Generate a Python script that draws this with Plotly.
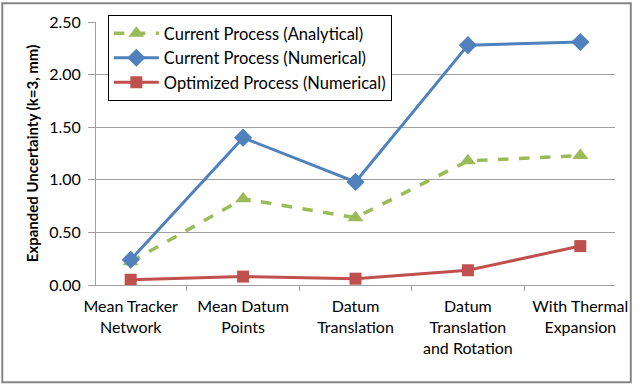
import plotly.graph_objects as go

categories = ["Mean Tracker<br>Network", "Mean Datum<br>Points", "Datum<br>Translation",
              "Datum<br>Translation<br>and Rotation", "With Thermal<br>Expansion"]
analytical = [0.22, 0.82, 0.64, 1.18, 1.23]
numerical = [0.24, 1.40, 0.98, 2.28, 2.31]
optimized = [0.05, 0.08, 0.06, 0.14, 0.37]
y_ticks = [0.0, 0.5, 1.0, 1.5, 2.0, 2.5]

font = "Lato, 'Open Sans', sans-serif"

fig = go.Figure()
fig.add_trace(go.Scatter(x=categories, y=analytical, name="Current Process (Analytical)",
                         mode="lines+markers",
                         line=dict(color="#9BBB59", width=3.5, dash="dash"),
                         marker=dict(symbol="triangle-up", size=14, color="#9BBB59")))
fig.add_trace(go.Scatter(x=categories, y=numerical, name="Current Process (Numerical)",
                         mode="lines+markers",
                         line=dict(color="#4F81BD", width=3),
                         marker=dict(symbol="diamond", size=14, color="#4F81BD")))
fig.add_trace(go.Scatter(x=categories, y=optimized, name="Optimized Process (Numerical)",
                         mode="lines+markers",
                         line=dict(color="#C0504D", width=3),
                         marker=dict(symbol="square", size=12, color="#C0504D")))

L, R, T, B = 96, 622, 20, 285
W, H = 640, 385
pw, ph = R - L, B - T

fig.update_layout(
    width=W, height=H,
    margin=dict(l=L, r=W - R, t=T, b=H - B),
    paper_bgcolor="white", plot_bgcolor="white",
    font=dict(family=font, size=16, color="#000000"),
    showlegend=True,
    legend=dict(x=(108 - L) / pw, y=(B - 13) / ph, xanchor="left", yanchor="top",
                bordercolor="#000000", borderwidth=1, bgcolor="white",
                font=dict(size=16.5), itemwidth=45),
    xaxis=dict(type="category", showline=True, linecolor="#A0A0A0", linewidth=1,
               ticks="outside", tickson="boundaries", ticklen=5, tickcolor="#A0A0A0",
               showgrid=False, tickfont=dict(size=16), ticklabelstandoff=7),
    yaxis=dict(range=[0, 2.5], tickvals=y_ticks, tickformat=".2f",
               showline=True, linecolor="#A0A0A0", linewidth=1,
               ticks="outside", ticklen=7, tickcolor="#A0A0A0",
               showgrid=True, gridcolor="#A0A0A0", gridwidth=1, zeroline=False,
               tickfont=dict(size=16), ticklabelstandoff=4,
               title=dict(text="<b>Expanded Uncertainty (k=3, mm)</b>", font=dict(size=15), standoff=6)),
    shapes=[dict(type="rect", xref="paper", yref="paper",
                 x0=(1 - L) / pw, x1=(638 - L) / pw, y0=(B - 383) / ph, y1=(B - 1) / ph,
                 line=dict(color="#868686", width=2))],
)

fig.write_html("out.html", config={"displayModeBar": False},
               post_script="document.body.style.margin='0';document.body.style.overflow='hidden';")
